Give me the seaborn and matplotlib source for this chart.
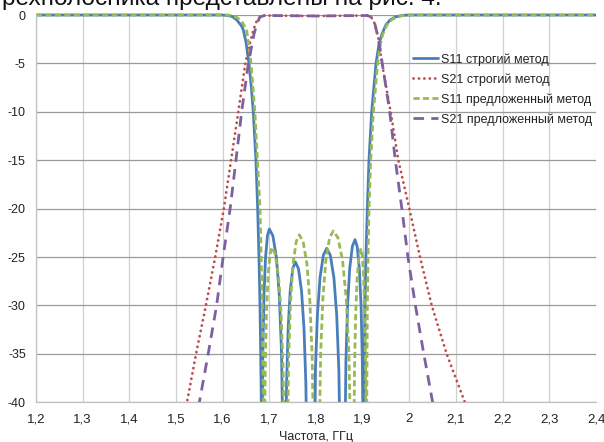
import matplotlib
matplotlib.use("Agg")
import matplotlib.pyplot as plt
import seaborn as sns
import pandas as pd
from matplotlib.transforms import Bbox, TransformedBbox

# Frequency response of the three-band filter: rigorous vs proposed method
s11_strict_f = [1.20, 1.60, 1.61, 1.62, 1.63, 1.64, 1.644, 1.65, 1.6564, 1.6615, 1.6656, 1.6713, 1.675,
                1.6778, 1.680, 1.6815, 1.6828, 1.6836,
                1.6844, 1.6861, 1.6885, 1.6918, 1.6959, 1.7000, 1.7076, 1.7153, 1.7214, 1.7260, 1.7291, 1.7306,
                1.7337, 1.7348, 1.7370, 1.7403, 1.7447, 1.7502, 1.7557, 1.7624, 1.7690, 1.7743, 1.7783, 1.7810, 1.7823,
                1.7944, 1.7958, 1.7987, 1.8030, 1.8087, 1.8158, 1.8229, 1.8306, 1.8383, 1.8444, 1.8490, 1.8521, 1.8536,
                1.8607, 1.8618, 1.8641, 1.8676, 1.8722, 1.8779, 1.8836, 1.8882, 1.8929, 1.8966, 1.8993, 1.9012, 1.9021,
                1.9028, 1.9040, 1.9050, 1.9070, 1.9100, 1.9135, 1.9193, 1.9286, 1.9350, 1.9410, 1.9500, 1.9590,
                1.9700, 1.9870, 2.0000, 2.4000]
s11_strict_db = [0, 0, -0.05, -0.15, -0.5, -1.1, -1.5, -2.8, -5, -7.5, -10, -15, -20,
                 -25, -30, -35, -40, -58,
                 -44, -34.7, -29.0, -25.1, -22.8, -22.1, -22.8, -25.1, -29.0, -34.7, -44, -58,
                 -60, -47.6, -38.1, -32.4, -28.5, -26.2, -25.5, -26.2, -28.5, -32.4, -38.1, -47.6, -60,
                 -60, -46.2, -36.7, -31.0, -27.1, -24.8, -24.1, -24.8, -27.1, -31.0, -36.7, -46.2, -60,
                 -60, -45.3, -35.8, -30.1, -26.2, -23.9, -23.2, -23.9, -26.2, -30.1, -35.8, -45.3, -58,
                 -42, -35, -30, -25, -20, -15, -10, -5, -3, -2, -1, -0.5,
                 -0.2, -0.03, 0, 0]

s21_strict_f = [1.500, 1.5235, 1.5430, 1.5640, 1.5840, 1.6025, 1.6180, 1.6335, 1.6485, 1.6580, 1.6660,
                1.6730, 1.6800, 1.6900, 1.7500, 1.8000, 1.8500, 1.9100, 1.9180, 1.9260, 1.9340, 1.9414,
                1.9600, 1.9765, 2.0000, 2.0229, 2.0480, 2.0800, 2.1190, 2.1500]
s21_strict_db = [-48, -40, -35, -30, -25, -20, -15, -10, -5, -3, -1.5,
                 -0.6, -0.2, -0.05, -0.08, -0.1, -0.08, -0.05, -0.2, -0.9, -2.5, -5,
                 -10, -15, -20, -25, -30, -35, -40, -44]

s11_prop_f = [1.20, 1.61, 1.62, 1.63, 1.64, 1.651, 1.6560, 1.6607, 1.669, 1.6745, 1.680, 1.6825, 1.6849,
              1.6860, 1.6872, 1.6886,
              1.6895, 1.6912, 1.6937, 1.6972, 1.7014, 1.7057, 1.7127, 1.7197, 1.7253, 1.7295, 1.7323, 1.7337,
              1.7373, 1.7387, 1.7414, 1.7454, 1.7508, 1.7576, 1.7643, 1.7724, 1.7805, 1.7869, 1.7918, 1.7950, 1.7966,
              1.8052, 1.8068, 1.8100, 1.8148, 1.8212, 1.8291, 1.8371, 1.8469, 1.8568, 1.8646, 1.8705, 1.8744, 1.8764,
              1.8800, 1.8808, 1.8825, 1.8849, 1.8882, 1.8923, 1.8964, 1.8993, 1.9022, 1.9045, 1.9063, 1.9074, 1.9080,
              1.9085, 1.9100, 1.9115, 1.9135, 1.9171, 1.9230, 1.9321, 1.9380, 1.9430, 1.9520, 1.9620,
              1.9750, 1.9900, 2.0000, 2.4000]
s11_prop_db = [0, 0, -0.08, -0.25, -0.6, -1.5, -3, -5, -10, -15, -20, -25, -30,
               -35, -40, -58,
               -46, -36.6, -30.9, -27.0, -24.7, -24.0, -24.7, -27.0, -30.9, -36.6, -46, -58,
               -58, -44.7, -35.3, -29.6, -25.7, -23.4, -22.7, -23.4, -25.7, -29.6, -35.3, -44.7, -58,
               -58, -44.4, -34.9, -29.2, -25.3, -23.0, -22.3, -23.0, -25.3, -29.2, -34.9, -44.4, -58,
               -58, -46.2, -36.7, -31.0, -27.1, -24.8, -24.1, -24.8, -27.1, -31.0, -36.7, -46.2, -58,
               -42, -30, -25, -20, -15, -10, -5, -3, -2, -1, -0.5,
               -0.15, -0.02, 0, 0]

s21_prop_f = [1.530, 1.5500, 1.5690, 1.5870, 1.6010, 1.6160, 1.6285, 1.6407, 1.6550, 1.6610, 1.6670,
              1.6740, 1.6800, 1.6900, 1.7500, 1.8000, 1.8500, 1.9100, 1.9180, 1.9260, 1.9340, 1.9420,
              1.9580, 1.9700, 1.9840, 1.9970, 2.0130, 2.0310, 2.0500, 2.0600]
s21_prop_db = [-46, -40, -35, -30, -25, -20, -15, -10, -5, -3.5, -2,
               -0.8, -0.2, -0.05, -0.08, -0.1, -0.08, -0.05, -0.2, -0.9, -2.5, -5,
               -10, -15, -20, -25, -30, -35, -40, -43]

series_labels = ["S11 строгий метод", "S21 строгий метод",
                 "S11 предложенный метод", "S21 предложенный метод"]

x_ticks = [1.2, 1.3, 1.4, 1.5, 1.6, 1.7, 1.8, 1.9, 2.0, 2.1, 2.2, 2.3, 2.4]
x_tick_labels = ["1,2", "1,3", "1,4", "1,5", "1,6", "1,7", "1,8", "1,9", "2", "2,1", "2,2", "2,3", "2,4"]
y_ticks = [0, -5, -10, -15, -20, -25, -30, -35, -40]
y_tick_labels = ["0", "-5", "-10", "-15", "-20", "-25", "-30", "-35", "-40"]

sns.set_style("white")
plt.rcParams["font.family"] = ["Liberation Sans", "DejaVu Sans"]

W, H = 604, 442
fig = plt.figure(figsize=(W / 100, H / 100), dpi=100)
ax = fig.add_axes([36 / W, 1 - 402.3 / H, 560 / W, 387.3 / H])

styles = [
    dict(color="#4A7EBB", linestyle="-"),
    dict(color="#BE4B48", linestyle=(0, (0.05, 1.9)), dash_capstyle="round"),
    dict(color="#98B954", linestyle=(0, (2.2, 1.2))),
    dict(color="#7D60A0", linestyle=(0, (3.8, 2.6))),
]
data = [(s11_strict_f, s11_strict_db), (s21_strict_f, s21_strict_db),
        (s11_prop_f, s11_prop_db), (s21_prop_f, s21_prop_db)]

for (f, db), lab, st in zip(data, series_labels, styles):
    df = pd.DataFrame({"f": f, "db": db})
    sns.lineplot(data=df, x="f", y="db", ax=ax, label=lab, estimator=None,
                 sort=False, lw=2.0, **st)

ax.set_xlim(1.2, 2.4)
ax.set_ylim(-40, 0)

# let the lines at 0 dB show their full width above the plot edge
clip = TransformedBbox(Bbox([[1.2, -40], [2.4, 2]]), ax.transData)
for line in ax.lines:
    line.set_clip_path(None)
    line.set_clip_box(clip)

ax.set_xticks(x_ticks)
ax.set_xticklabels(x_tick_labels)
ax.set_yticks(y_ticks)
ax.set_yticklabels(y_tick_labels)

ax.grid(False)
ax.xaxis.grid(True, color="#D0D0D0", lw=0.9)
ax.yaxis.grid(True, color="#9A9A9A", lw=0.9)
ax.set_axisbelow(True)
for side in ["top", "right"]:
    ax.spines[side].set_visible(False)
for side in ["left", "bottom"]:
    ax.spines[side].set_color("#C0C0C0")
    ax.spines[side].set_linewidth(0.9)

ax.tick_params(axis="y", direction="out", length=3, width=0.9, color="#A0A0A0",
               pad=4.3, labelsize=9, labelcolor="#222222")
ax.tick_params(axis="x", length=0, pad=8, labelsize=9.5, labelcolor="#222222")

ax.set_xlabel("Частота, ГГц", fontsize=9, color="#222222")
ax.set_ylabel("")
ax.xaxis.set_label_coords(0.5, -0.075)
ax.xaxis.label.set_va("top")

leg = ax.legend(loc="upper left", bbox_to_anchor=(413 / W, 1 - 53 / H),
                bbox_transform=fig.transFigure, frameon=False, fontsize=9,
                handlelength=2.0, handletextpad=0.25, labelspacing=0.6,
                borderpad=0, borderaxespad=0)
for t in leg.get_texts():
    t.set_color("#222222")
for h in leg.get_lines():
    h.set_linewidth(2.0)

# remnant of the preceding text line on the page
fig.text(442 / W, 1 - 5 / H, "рехполосника представлены на рис. 4.",
         ha="right", va="baseline", fontsize=17.6, color="#111111")

fig.savefig("out.png", dpi=100)
